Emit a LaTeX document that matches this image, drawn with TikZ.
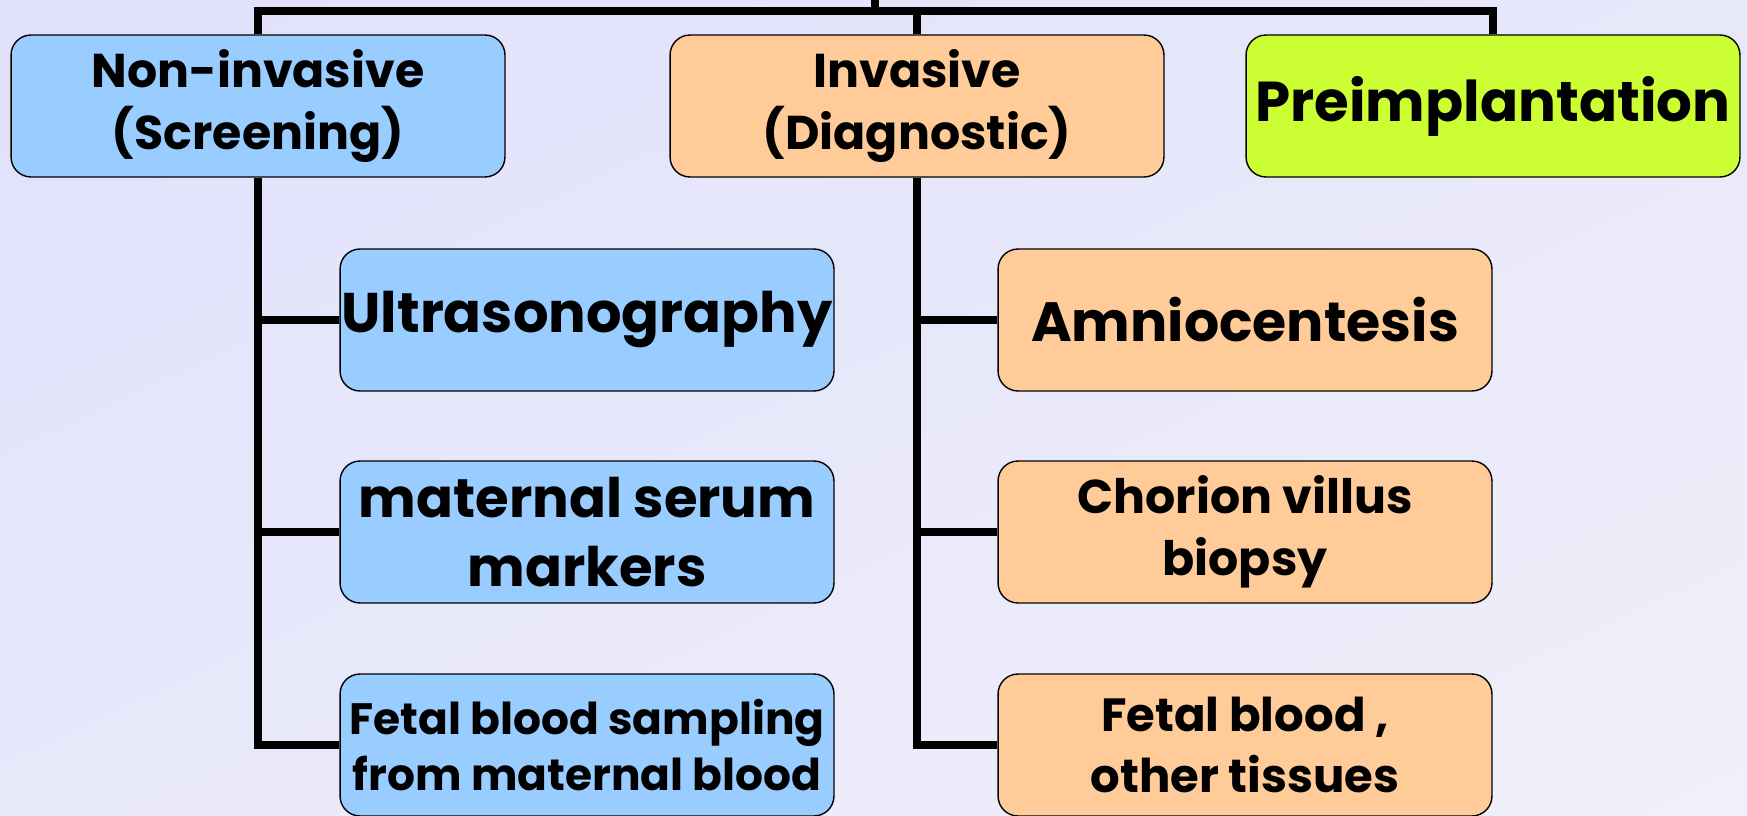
\documentclass[tikz,border=0pt]{standalone}
\usepackage{fontspec}
\setmainfont{Poppins}
\usetikzlibrary{positioning,shadings}
\definecolor{bgA}{RGB}{224,224,252}
\definecolor{bgB}{RGB}{240,240,250}
\definecolor{bgM}{RGB}{232,232,251}
\definecolor{screenblue}{RGB}{153,204,255}
\definecolor{diagpeach}{RGB}{255,204,153}
\definecolor{preimplime}{RGB}{204,255,51}
\begin{document}
\begin{tikzpicture}[x=0.02cm,y=-0.02cm]
\tikzset{box/.style = {draw=black,line width=0.8pt,rounded corners=0.4cm,
  minimum width=9.88cm,minimum height=2.84cm,align=center,inner sep=0pt,
  font=\bfseries\fontsize{27}{35}\selectfont}}
\tikzset{tree/.style = {line width=4.5pt,line join=miter}}
% background
\useasboundingbox (0,0) rectangle (1747,815);
\shade[upper left=bgA,upper right=bgM,lower left=bgM,lower right=bgB] (0,0) rectangle (1747,815);
% top row
\node[box,fill=screenblue] (noninv) at (258,106) {Non-invasive\\(Screening)};
\node[box,fill=diagpeach] (inv) at (917,106) {Invasive\\(Diagnostic)};
\node[box,fill=preimplime,font=\bfseries\fontsize{32}{38}\selectfont] (preimp) at (1493,106) {Preimplantation};
% screening tests
\node[box,fill=screenblue,font=\bfseries\fontsize{31.8}{40}\selectfont] (us) at (587,320) {Ultrasonography};
\node[box,fill=screenblue,font=\bfseries\fontsize{31}{39}\selectfont] (mserum) at (587,532) {maternal serum\\markers};
\node[box,fill=screenblue,font=\bfseries\fontsize{25}{32}\selectfont] (fbsmat) at (587,745) {Fetal blood sampling\\from maternal blood};
% diagnostic tests
\node[box,fill=diagpeach,font=\bfseries\fontsize{31.5}{38}\selectfont] (amnio) at (1245,320) {Amniocentesis};
\node[box,fill=diagpeach] (cvs) at (1245,532) {Chorion villus\\biopsy};
\node[box,fill=diagpeach,font=\bfseries\fontsize{26.5}{35}\selectfont] (fbtis) at (1245,745) {Fetal blood ,\\other tissues};
% lines
\coordinate (bar) at (875,11);
\coordinate (root) at (875,-10);
\draw[tree] (noninv.north) |- (bar) -| (preimp.north);
\draw[tree] (bar) -- (root);
\draw[tree] (inv.north) -- (inv.north |- bar);
\draw[tree] (noninv.south) |- (fbsmat.west);
\draw[tree] (noninv.south |- us.west) -- (us.west);
\draw[tree] (noninv.south |- mserum.west) -- (mserum.west);
\draw[tree] (inv.south) |- (fbtis.west);
\draw[tree] (inv.south |- amnio.west) -- (amnio.west);
\draw[tree] (inv.south |- cvs.west) -- (cvs.west);
\end{tikzpicture}
\end{document}
